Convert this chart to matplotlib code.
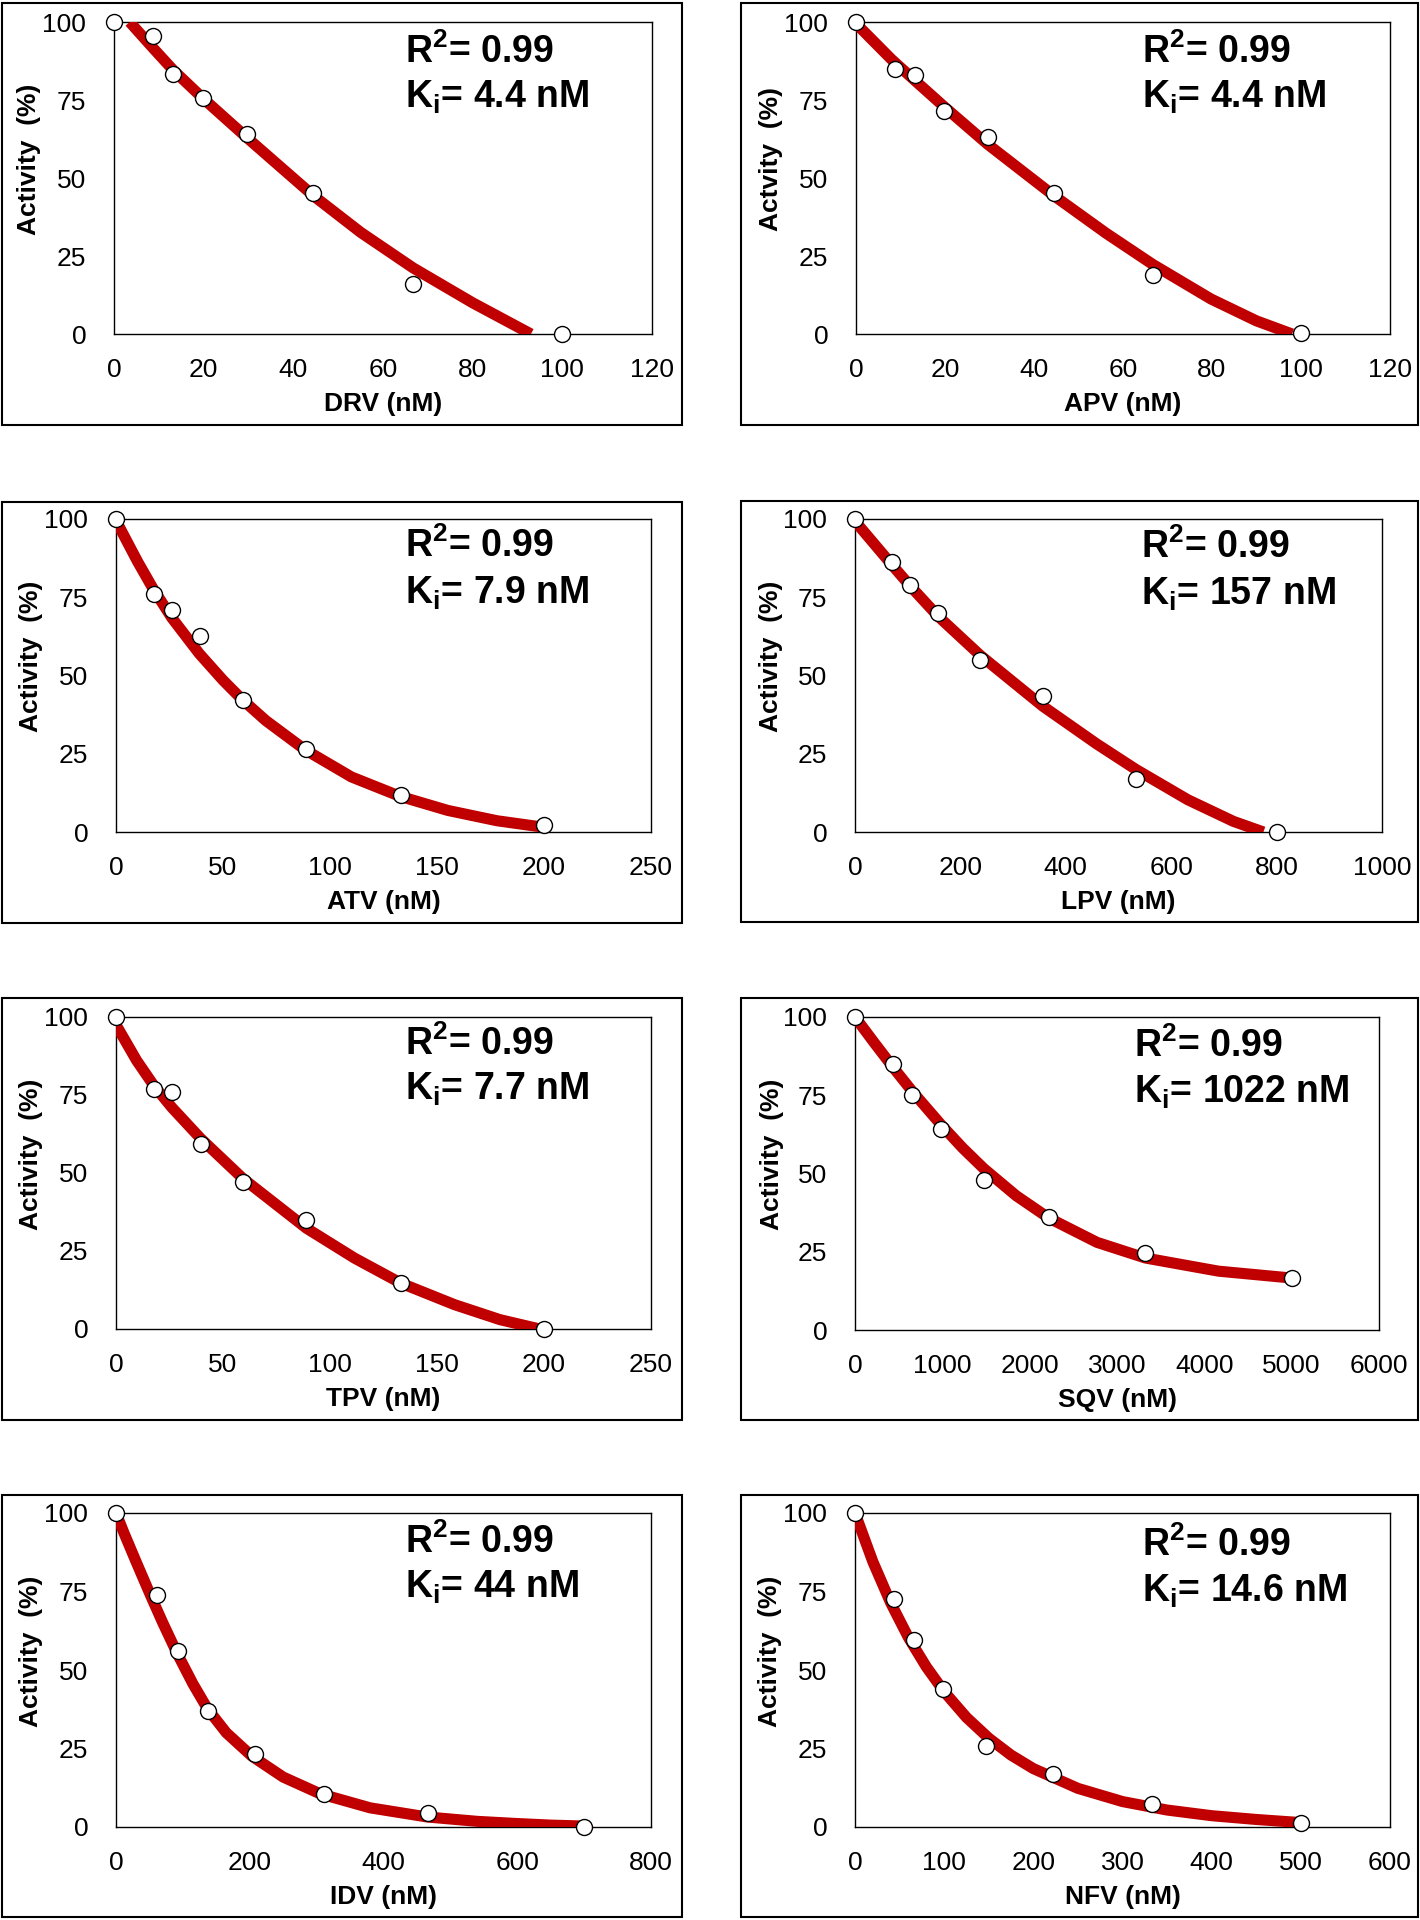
import matplotlib
matplotlib.use('Agg')
import matplotlib.pyplot as plt
from matplotlib.patches import Rectangle

plt.rcParams['font.family'] = ['Liberation Sans', 'DejaVu Sans']
plt.rcParams['mathtext.fontset'] = 'custom'
plt.rcParams['mathtext.rm'] = 'Liberation Sans'
plt.rcParams['mathtext.bf'] = 'Liberation Sans:bold'
plt.rcParams['mathtext.default'] = 'bf'

# ---------------- data ----------------
drv_x = [0, 8.8, 13.2, 19.8, 29.6, 44.4, 66.7, 100]
drv_y = [100, 95.4, 83.3, 75.5, 64.1, 45.3, 16.1, 0]
drv_fit_x = [3.5, 8.8, 13.2, 19.8, 29.6, 44.5, 55, 66.7, 80, 93]
drv_fit_y = [100, 91.5, 84.6, 75.6, 63.0, 44.3, 32.6, 21.2, 10.0, 0]

apv_x = [0, 8.8, 13.2, 19.7, 29.6, 44.6, 66.7, 100]
apv_y = [100, 85.0, 82.9, 71.5, 63.3, 45.1, 18.8, 0.2]
apv_fit_x = [0, 8, 13.2, 19.7, 29.6, 44.6, 56.2, 66.7, 79.8, 90, 98]
apv_fit_y = [99.5, 88.0, 81.3, 73.0, 60.8, 44.2, 32.3, 22.3, 11.2, 4.2, 0]

atv_x = [0, 17.6, 26.1, 39.3, 59.4, 89, 133.1, 200]
atv_y = [100, 76.1, 70.8, 62.5, 42.1, 26.6, 11.7, 2.3]
atv_fit_x = [0, 10, 17.1, 26, 38.9, 50, 58.7, 70, 88.3, 110, 132.7, 155, 178, 200]
atv_fit_y = [99.5, 86.5, 78.0, 68.5, 57.0, 48.5, 42.5, 35.6, 26.3, 17.6, 11.4, 6.9, 3.6, 1.5]

lpv_x = [0, 69.9, 105.3, 157.9, 237.3, 356.3, 533.2, 800]
lpv_y = [100, 86.2, 78.8, 70.0, 55.1, 43.3, 16.9, 0]
lpv_fit_x = [0, 69.9, 105.3, 157.9, 237.3, 356.3, 459, 533, 631.6, 718, 775]
lpv_fit_y = [99.3, 85.4, 78.5, 68.9, 56.5, 40.2, 28.1, 20.0, 10.3, 3.4, 0]

tpv_x = [0, 17.6, 26.1, 39.5, 59.2, 89, 133.1, 200]
tpv_y = [100, 76.9, 76.0, 59.3, 47.0, 35.0, 14.9, 0]
tpv_fit_x = [0, 9.6, 17.6, 26.1, 39.5, 59.2, 89, 111.5, 133.1, 158.2, 179.4, 198]
tpv_fit_y = [97.5, 86.1, 78.1, 71.0, 61.1, 48.3, 32.3, 22.7, 14.7, 7.8, 3.0, 0]

sqv_x = [0, 434, 657, 988, 1474, 2218, 3325, 5000]
sqv_y = [100, 85.1, 75.0, 64.1, 47.9, 36.0, 24.5, 16.5]
sqv_fit_x = [0, 217, 434, 657, 988, 1231, 1474, 1846, 2218, 2771, 3325, 4162, 5000]
sqv_fit_y = [100, 91.9, 84.0, 76.2, 65.5, 58.2, 51.6, 42.9, 35.8, 28.0, 23.0, 18.8, 16.6]

idv_x = [0, 61.2, 92.5, 137.3, 208, 310.7, 466.4, 700]
idv_y = [100, 73.9, 55.9, 36.9, 23.1, 10.4, 4.5, 0]
idv_fit_x = [0, 12, 30, 52, 70, 91, 115, 137, 165, 203, 250, 305, 380, 465, 540, 600, 650, 700]
idv_fit_y = [100, 93.6, 84.5, 73.6, 65.0, 55.5, 45.6, 37.6, 30.0, 22.6, 15.9, 10.6, 6.1,
             3.2, 1.8, 1.1, 0.6, 0.3]

nfv_x = [0, 43.4, 65.8, 98.5, 147.4, 221.9, 333.2, 500]
nfv_y = [100, 72.6, 59.4, 43.8, 25.9, 17.0, 7.4, 1.3]
nfv_fit_x = [0, 20, 40, 60, 80, 100, 125, 150, 175, 200, 250, 300, 350, 400, 450, 500]
nfv_fit_y = [100, 84.5, 71.4, 60.3, 51.0, 43.1, 34.9, 28.3, 22.9, 18.6, 12.3, 8.1,
             5.4, 3.6, 2.4, 1.4]

drugs = ['DRV', 'APV', 'ATV', 'LPV', 'TPV', 'SQV', 'IDV', 'NFV']
ki_labels = ['4.4', '4.4', '7.9', '157', '7.7', '1022', '44', '14.6']
r2_labels = ['0.99'] * 8
ylabels = ['Activity  (%)', 'Actvity  (%)', 'Activity  (%)', 'Activity  (%)',
           'Activity  (%)', 'Activity  (%)', 'Activity  (%)', 'Activity  (%)']
xtick_sets = [
    [0, 20, 40, 60, 80, 100, 120],
    [0, 20, 40, 60, 80, 100, 120],
    [0, 50, 100, 150, 200, 250],
    [0, 200, 400, 600, 800, 1000],
    [0, 50, 100, 150, 200, 250],
    [0, 1000, 2000, 3000, 4000, 5000, 6000],
    [0, 200, 400, 600, 800],
    [0, 100, 200, 300, 400, 500, 600],
]
ytick_vals = [0, 25, 50, 75, 100]

points = [(drv_x, drv_y), (apv_x, apv_y), (atv_x, atv_y), (lpv_x, lpv_y),
          (tpv_x, tpv_y), (sqv_x, sqv_y), (idv_x, idv_y), (nfv_x, nfv_y)]
fits = [(drv_fit_x, drv_fit_y), (apv_fit_x, apv_fit_y), (atv_fit_x, atv_fit_y),
        (lpv_fit_x, lpv_fit_y), (tpv_fit_x, tpv_fit_y), (sqv_fit_x, sqv_fit_y),
        (idv_fit_x, idv_fit_y), (nfv_fit_x, nfv_fit_y)]

# ---------------- layout (pixels in a 1420x1920 canvas) ----------------
W, H = 1420, 1920
plot_px = [
    (114, 652, 22, 334), (856, 1390, 22, 334),
    (116, 651, 519, 832), (855, 1382, 519, 832),
    (116, 651, 1017, 1329), (855, 1379, 1017, 1330),
    (116, 651, 1513, 1827), (855, 1390, 1513, 1827),
]
frame_px = [
    (2, 682, 3, 425), (741, 1418, 3, 425),
    (2, 682, 502, 923), (741, 1418, 501, 922),
    (2, 682, 998, 1420), (741, 1418, 998, 1420),
    (2, 682, 1495, 1917), (741, 1418, 1495, 1917),
]
text_pos = [
    (0.541, 0.869, 0.724), (0.536, 0.869, 0.724),
    (0.540, 0.879, 0.730), (0.543, 0.875, 0.725),
    (0.540, 0.878, 0.734), (0.533, 0.872, 0.725),
    (0.540, 0.873, 0.729), (0.537, 0.863, 0.717),
]

RED = '#C00000'

fig = plt.figure(figsize=(W / 100, H / 100), dpi=100)

for i in range(8):
    fx0, fx1, fy0, fy1 = frame_px[i]
    fig.patches.append(Rectangle((fx0 / W, 1 - fy1 / H), (fx1 - fx0) / W, (fy1 - fy0) / H,
                                 transform=fig.transFigure, fill=False,
                                 edgecolor='black', linewidth=1.5, zorder=0))
    x0, x1, yt, yb = plot_px[i]
    ax = fig.add_axes([x0 / W, 1 - yb / H, (x1 - x0) / W, (yb - yt) / H])
    ticks = xtick_sets[i]
    fx, fy = fits[i]
    px, py = points[i]
    ax.plot(fx, fy, color=RED, lw=8, solid_capstyle='butt',
            solid_joinstyle='round', zorder=2)
    ax.plot(px, py, 'o', ms=11.5, mfc='white', mec='black', mew=1.0,
            clip_on=False, zorder=3)
    ax.set_xlim(ticks[0], ticks[-1])
    ax.set_ylim(0, 100)
    ax.set_xticks(ticks)
    ax.set_yticks(ytick_vals)
    ax.tick_params(axis='both', length=0, labelsize=19)
    ax.tick_params(axis='x', pad=17)
    ax.tick_params(axis='y', pad=20)
    for sp in ax.spines.values():
        sp.set_linewidth(1.0)
        sp.set_color('black')
        sp.set_zorder(1)
    ax.set_xlabel(f'{drugs[i]} (nM)', fontsize=19, fontweight='bold')
    ax.xaxis.set_label_coords(0.5, -0.185)
    ax.set_ylabel(ylabels[i], fontsize=19, fontweight='bold')
    ax.yaxis.set_label_coords(-0.136, 0.56)
    tx, ty1, ty2 = text_pos[i]
    ax.text(tx, ty1, r'R$^{2}$= ' + r2_labels[i], transform=ax.transAxes,
            fontsize=27, fontweight='bold', va='baseline', ha='left')
    ax.text(tx, ty2, r'K$_{i}$= ' + ki_labels[i] + ' nM', transform=ax.transAxes,
            fontsize=27, fontweight='bold', va='baseline', ha='left')

fig.savefig('out.png', dpi=100, facecolor='white')
